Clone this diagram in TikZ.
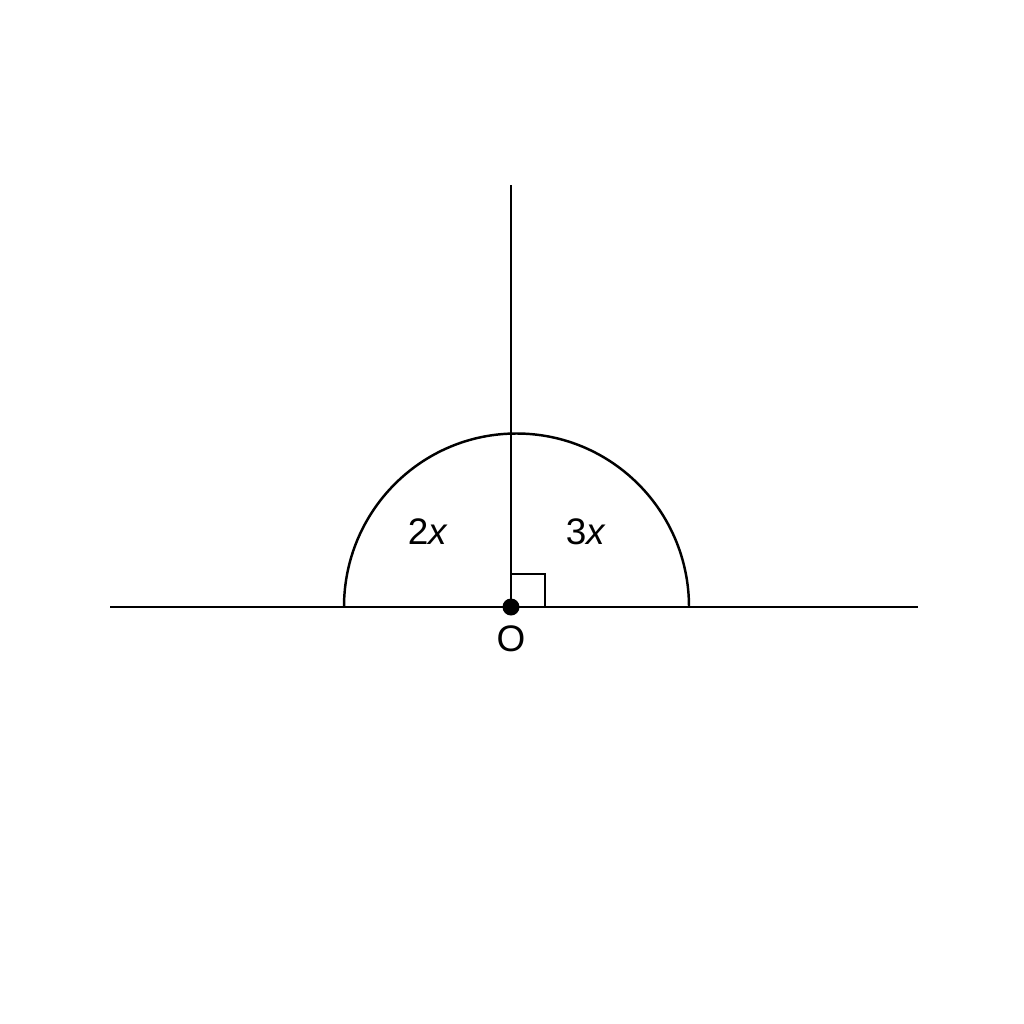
\documentclass[tikz,border=0pt]{standalone}
\usepackage{fontspec}
\setmainfont{Liberation Sans}
\begin{document}
\begin{tikzpicture}[x=0.01cm,y=-0.01cm,
  ln/.style={line width=0.7pt,black},
  lbl/.style={font=\fontsize{10.5}{12}\selectfont,inner sep=0pt}]
\useasboundingbox (0,0) rectangle (1024,1024);
\coordinate (L) at (110,607);
\coordinate (R) at (918,607);
\coordinate (O) at (511,607);
\coordinate (T) at (511,185);
\coordinate (AL) at (344,607);
\draw[ln] (L) -- (R);
\draw[ln] (O) -- (T);
\draw[ln] (AL) arc[start angle=180,end angle=0,x radius=172.5,y radius=-173.5];
\draw[ln] (511,574) -- (545,574) -- (545,607);
\fill (O) circle[radius=8.5];
\node[lbl] (o) at (511,639) {O};
\node[lbl] (a) at (428,532) {2\textit{x}};
\node[lbl] (b) at (586,532) {3\textit{x}};
\end{tikzpicture}
\end{document}
